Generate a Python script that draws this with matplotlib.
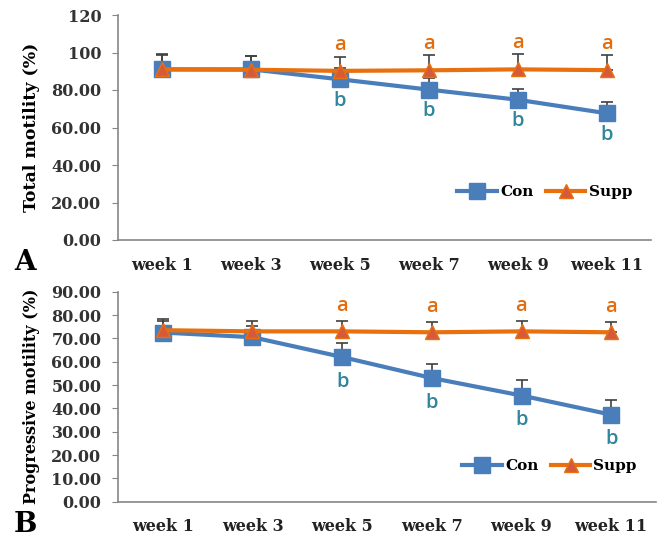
import matplotlib.pyplot as plt

weeks = ["week 1", "week 3", "week 5", "week 7", "week 9", "week 11"]

# panel A: total motility
total_con = [91.0, 91.0, 85.7, 80.2, 74.8, 67.6]
total_supp = [91.0, 90.8, 90.2, 90.5, 91.0, 90.6]
total_con_err = [7.5, 7.0, 6.0, 6.0, 6.0, 6.0]
total_supp_err = [8.0, 7.5, 7.5, 8.0, 8.0, 8.0]
total_con_letters = ["", "", "b", "b", "b", "b"]
total_supp_letters = ["", "", "a", "a", "a", "a"]

# panel B: progressive motility
prog_con = [72.5, 70.5, 62.0, 53.0, 45.5, 37.3]
prog_supp = [73.5, 73.0, 73.0, 72.6, 73.0, 72.6]
prog_con_err = [5.0, 5.0, 6.0, 6.0, 6.5, 6.5]
prog_supp_err = [5.0, 4.5, 4.5, 4.5, 4.5, 4.5]
prog_con_letters = ["", "", "b", "b", "b", "b"]
prog_supp_letters = ["", "", "a", "a", "a", "a"]

BLUE = "#4A7EBB"
ORANGE = "#E8700F"
TRI = "#D65A3A"
LETTER_B = "#31859C"
LETTER_A = "#E46C0A"
SERIF = ["DejaVu Serif"]

fig = plt.figure(figsize=(6.66, 5.45), dpi=100)
axA = fig.add_axes([118 / 666, 1 - 240 / 545, 533 / 666, 225 / 545])
axB = fig.add_axes([118 / 666, 1 - 501.7 / 545, 538 / 666, 210 / 545])


def draw_panel(ax, con, supp, con_err, supp_err, con_lab, supp_lab, ymax, step,
               ticklabels, ylabel, ylabel_size, a_off, b_off, legend_y):
    x = list(range(len(weeks)))
    ax.errorbar(x, con, yerr=[[0] * len(x), con_err], fmt="none",
                ecolor="#404040", elinewidth=1.2, capsize=4, capthick=1.2, zorder=2)
    ax.errorbar(x, supp, yerr=[[0] * len(x), supp_err], fmt="none",
                ecolor="#404040", elinewidth=1.2, capsize=4, capthick=1.2, zorder=2)
    ax.plot(x, con, color=BLUE, lw=3, marker="s", ms=11, mfc=BLUE, mec=BLUE,
            label="Con", zorder=3)
    ax.plot(x, supp, color=ORANGE, lw=3, marker="^", ms=10, mfc=TRI, mec=ORANGE,
            label="Supp", zorder=4)
    for i in x:
        if supp_lab[i]:
            ax.text(i, supp[i] + a_off, supp_lab[i], color=LETTER_A, fontsize=14.5,
                    ha="center", va="center", family="Open Sans", fontweight="semibold")
        if con_lab[i]:
            ax.text(i, con[i] + b_off, con_lab[i], color=LETTER_B, fontsize=14.5,
                    ha="center", va="center", family="Open Sans", fontweight="semibold")
    ax.set_xlim(-0.5, len(x) - 0.5)
    ax.set_ylim(0, ymax)
    ax.set_yticks([step * k for k in range(len(ticklabels))])
    ax.set_yticklabels(ticklabels, family=SERIF, fontweight="bold", fontsize=11.5,
                       color="#333333")
    ax.set_xticks(x)
    ax.set_xticklabels(weeks, family=SERIF, fontweight="bold", fontsize=11.5,
                       color="#222222")
    ax.tick_params(axis="x", length=0, pad=12)
    ax.tick_params(axis="y", length=4, color="#868686", pad=8)
    for s in ["top", "right"]:
        ax.spines[s].set_visible(False)
    for s in ["left", "bottom"]:
        ax.spines[s].set_color("#868686")
        ax.spines[s].set_linewidth(1.2)
    ax.set_ylabel(ylabel, family=SERIF, fontweight="bold", fontsize=ylabel_size,
                  labelpad=8)
    ax.legend(loc="lower right", bbox_to_anchor=(0.99, legend_y), ncol=2, frameon=False,
              handlelength=2.6, columnspacing=0.8, handletextpad=0.2,
              prop={"family": SERIF, "weight": "bold", "size": 11})


draw_panel(axA, total_con, total_supp, total_con_err, total_supp_err,
           total_con_letters, total_supp_letters, 120, 20,
           ["0.00", "20.00", "40.00", "60.00", "80.00", "100", "120"],
           "Total motility (%)", 12.5, 14, -11.5, 0.12)
draw_panel(axB, prog_con, prog_supp, prog_con_err, prog_supp_err,
           prog_con_letters, prog_supp_letters, 90, 10,
           ["0.00", "10.00", "20.00", "30.00", "40.00", "50.00", "60.00",
            "70.00", "80.00", "90.00"],
           "Progressive motility (%)", 11.5, 11, -10.5, 0.07)

fig.text(14 / 666, 1 - 262 / 545, "A", family=SERIF, fontweight="bold", fontsize=20,
         va="center", ha="left")
fig.text(14 / 666, 1 - 525 / 545, "B", family=SERIF, fontweight="bold", fontsize=20,
         va="center", ha="left")

fig.savefig("out.png", dpi=100)
